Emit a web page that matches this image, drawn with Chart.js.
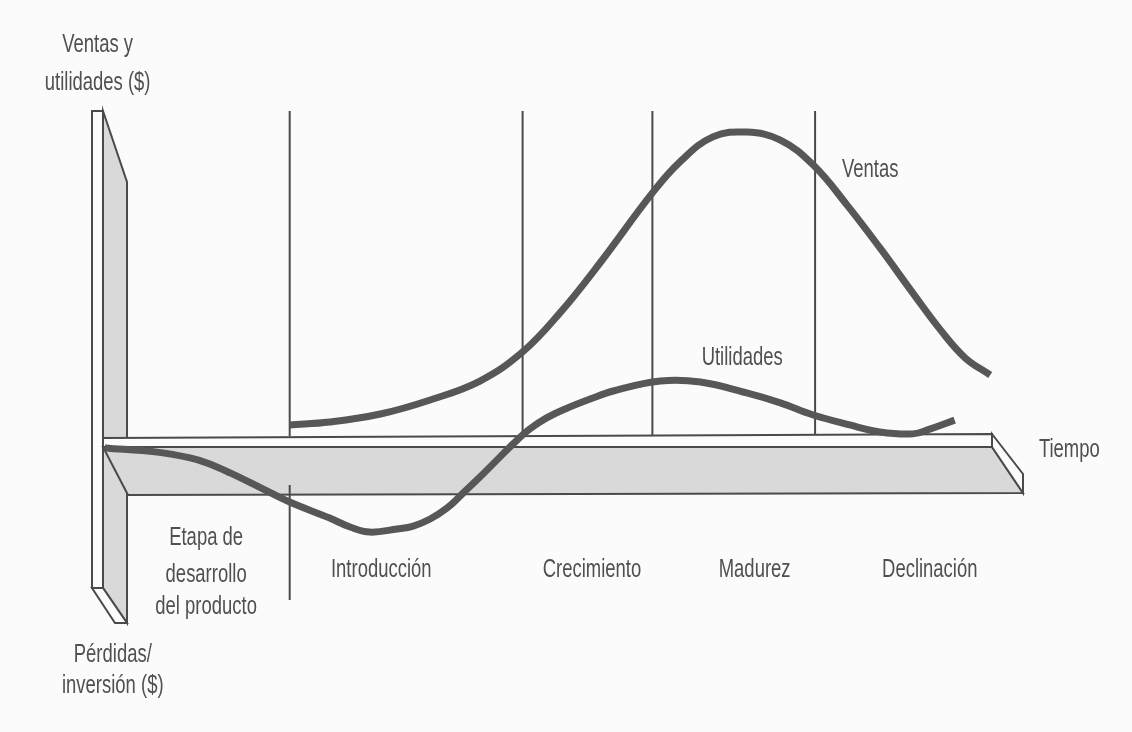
<!DOCTYPE html>
<html lang="es">
<head>
<meta charset="utf-8">
<title>Ciclo de vida del producto</title>
<script src="https://cdn.jsdelivr.net/npm/chart.js@4.4.1/dist/chart.umd.min.js"></script>
<style>
  html, body { margin: 0; padding: 0; background: #fbfbfb; overflow: hidden; }
  canvas { display: block; }
</style>
</head>
<body>
<canvas id="c" width="1132" height="732"></canvas>
<script>
// Time axis runs 0..100; money axis: positive = sales/profit, negative = loss/investment.
const ventasTime = [21.0, 25.5, 31.2, 36.8, 42.4, 47.2, 51.4, 55.9, 61.8, 64.9, 68.6, 72.4, 76.2, 79.9, 83.7, 87.4, 91.1, 94.2, 97.0, 99.8];
const ventasValues = [6.9, 7.8, 10.3, 14.7, 20.6, 29.7, 41.9, 57.5, 79.4, 89.1, 96.9, 98.4, 95.9, 88.1, 75.6, 62.2, 48.1, 36.6, 27.8, 22.5];

const utilidadesTime = [0.2, 6.1, 9.8, 11.7, 14.3, 17.7, 21.0, 25.5, 27.8, 30.0, 33.1, 34.9, 36.8, 38.7, 40.5, 42.4, 44.3, 46.1, 48.0, 49.9, 52.0, 54.8, 57.4, 62.7, 67.2, 72.4, 76.2, 79.9, 84.0, 87.4, 91.1, 93.0, 95.8];
const utilidadesValues = [-0.3, -1.6, -3.4, -5.0, -8.1, -12.7, -17.2, -22.2, -25.0, -26.6, -25.6, -24.7, -22.5, -19.1, -14.4, -9.4, -4.1, 0.9, 5.6, 9.1, 11.9, 15.0, 17.5, 20.6, 20.3, 16.9, 13.8, 10.0, 6.9, 4.7, 4.1, 5.6, 8.4];

// Boundaries between the life-cycle stages (time units)
const stageBounds = [21.0, 47.2, 61.8, 80.1];
const stageNames = ['Introducción', 'Crecimiento', 'Madurez', 'Declinación'];

const pts = (xs, ys) => xs.map((x, i) => ({ x: x, y: ys[i] }));

const INK = '#4a4a4a';
const CURVE = '#575757';
const FACE = '#d9d9d9';
const TEXT = '#505050';

// Draws the 3D-looking axes bars and the stage separators behind the curves
const framePlugin = {
  id: 'lifecycleFrame',
  beforeDraw(chart) {
    const ctx = chart.ctx;
    ctx.save();
    ctx.fillStyle = '#fbfbfb';
    ctx.fillRect(0, 0, chart.width, chart.height);
    ctx.restore();
  },
  beforeDatasetsDraw(chart) {
    const ctx = chart.ctx;
    const xs = chart.scales.x, ys = chart.scales.y;
    const area = chart.chartArea;
    const ox = xs.getPixelForValue(0);
    const oy = ys.getPixelForValue(0);
    const xEnd = xs.getPixelForValue(100);
    const top = area.top;

    const poly = (p, fill) => {
      ctx.beginPath();
      ctx.moveTo(p[0][0], p[0][1]);
      for (let i = 1; i < p.length; i++) ctx.lineTo(p[i][0], p[i][1]);
      ctx.closePath();
      ctx.fillStyle = fill;
      ctx.fill();
      ctx.stroke();
    };

    ctx.save();
    ctx.strokeStyle = INK;
    ctx.lineWidth = 2;
    ctx.lineJoin = 'miter';

    // stage separators (upper parts)
    stageBounds.forEach((b) => {
      const px = xs.getPixelForValue(b);
      ctx.beginPath();
      ctx.moveTo(px, top);
      ctx.lineTo(px, oy - 11);
      ctx.stroke();
    });

    // vertical bar: side face, front face, bottom end
    poly([[ox, top], [ox + 24, top + 71], [ox + 24, oy + 176], [ox, oy + 141]], FACE);
    poly([[ox - 11, top], [ox, top], [ox, oy + 141], [ox - 11, oy + 141]], '#fbfbfb');
    poly([[ox - 11, oy + 141], [ox, oy + 141], [ox + 24, oy + 176], [ox + 12, oy + 176]], '#fbfbfb');

    // horizontal bar: front face, top face, right end
    poly([[ox, oy], [xEnd, oy], [xEnd + 31, oy + 46], [ox + 25, oy + 48]], FACE);
    poly([[ox, oy - 9], [xEnd, oy - 13], [xEnd, oy], [ox, oy]], '#fbfbfb');
    poly([[xEnd, oy - 13], [xEnd + 31, oy + 27], [xEnd + 31, oy + 46], [xEnd, oy]], '#fbfbfb');

    // redraw front column edge over the bar
    ctx.beginPath();
    ctx.moveTo(ox, top);
    ctx.lineTo(ox, oy + 141);
    ctx.stroke();

    // lower part of the first separator
    const p0 = xs.getPixelForValue(stageBounds[0]);
    ctx.beginPath();
    ctx.moveTo(p0, oy + 38);
    ctx.lineTo(p0, oy + 153);
    ctx.stroke();
    ctx.restore();
  },
  afterDraw(chart) {
    const ctx = chart.ctx;
    const xs = chart.scales.x, ys = chart.scales.y;
    const label = (text, tx, ty) => {
      ctx.save();
      ctx.translate(xs.getPixelForValue(tx), ys.getPixelForValue(ty));
      ctx.scale(0.71, 1);
      ctx.fillText(text, 0, 0);
      ctx.restore();
    };
    ctx.save();
    ctx.fillStyle = TEXT;
    ctx.font = '26px "Liberation Sans", Arial, sans-serif';
    ctx.textAlign = 'center';
    ctx.textBaseline = 'alphabetic';

    label('Ventas y', -0.6, 123.4);
    label('utilidades ($)', -0.6, 111.6);
    label('Pérdidas/', 1.1, -67.2);
    label('inversión ($)', 1.1, -76.9);

    label('Etapa de', 11.6, -30.6);
    label('desarrollo', 11.6, -42.2);
    label('del producto', 11.6, -52.2);

    const stageLabelX = [31.3, 55.0, 73.3, 93.0];
    stageNames.forEach((n, i) => label(n, stageLabelX[i], -40.6));

    label('Tiempo', 108.7, -3.1);
    label('Ventas', 86.3, 84.4);
    label('Utilidades', 71.9, 25.6);
    ctx.restore();
  }
};

new Chart(document.getElementById('c'), {
  type: 'line',
  data: {
    datasets: [
      {
        label: 'Ventas',
        data: pts(ventasTime, ventasValues),
        borderColor: CURVE,
        borderWidth: 7,
        pointRadius: 0,
        tension: 0.4,
        fill: false,
        clip: false
      },
      {
        label: 'Utilidades',
        data: pts(utilidadesTime, utilidadesValues),
        borderColor: CURVE,
        borderWidth: 7,
        pointRadius: 0,
        tension: 0.4,
        fill: false,
        clip: false
      }
    ]
  },
  options: {
    responsive: false,
    animation: false,
    devicePixelRatio: 1,
    layout: { padding: { left: 103, right: 140, top: 111, bottom: 109 } },
    scales: {
      x: { type: 'linear', min: 0, max: 100, display: false },
      y: { type: 'linear', min: -55, max: 105, display: false }
    },
    plugins: {
      legend: { display: false },
      tooltip: { enabled: false }
    },
    events: []
  },
  plugins: [framePlugin]
});
</script>
</body>
</html>
